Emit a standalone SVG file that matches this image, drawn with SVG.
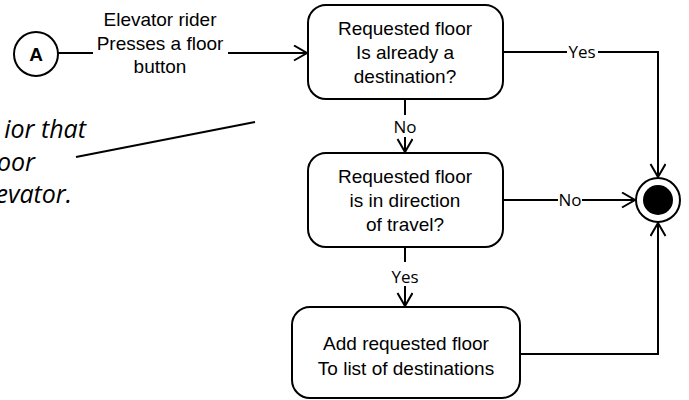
<svg xmlns="http://www.w3.org/2000/svg" width="689" height="400" viewBox="0 0 689 400">
<defs>
<style>
.box{fill:#fff;stroke:#000;stroke-width:2}
.node{font-family:"Liberation Sans",Arial,sans-serif;font-size:19px;text-anchor:middle;fill:#000}
.lbl{font-family:"Open Sans","Liberation Sans",sans-serif;font-size:17px;text-anchor:middle;fill:#000}
.note{font-family:"Open Sans","Liberation Sans",sans-serif;font-size:25px;font-style:italic;text-anchor:end;fill:#000}
.con{fill:none;stroke:#000;stroke-width:2}
.bg{fill:#fff}
</style>
<marker id="arr" markerUnits="userSpaceOnUse" markerWidth="16" markerHeight="18" refX="14" refY="8" orient="auto">
<path d="M1,0.5 L14,8 L1,15.5" fill="none" stroke="#000" stroke-width="2"/>
</marker>
</defs>
<rect width="689" height="400" fill="#fff"/>

<g id="note">
<text class="note" x="86" y="138">ior that</text>
<text class="note" x="35" y="171">oor</text>
<text class="note" x="72" y="203">evator.</text>
<line class="con" x1="76" y1="157" x2="255" y2="122" stroke-width="1.8"/>
</g>

<g id="connectors">
<path class="con" d="M58,53 H93"/>
<path class="con" d="M228,53 H307" marker-end="url(#arr)"/>
<text class="node" x="160" y="26">Elevator rider</text>
<text class="node" x="160" y="50">Presses a floor</text>
<text class="node" x="160" y="73">button</text>

<path class="con" d="M503,52 H658 V177" marker-end="url(#arr)"/>
<rect class="bg" x="567" y="42" width="31" height="20"/>
<text class="lbl" x="582" y="58">Yes</text>

<path class="con" d="M405,99 V152" marker-end="url(#arr)"/>
<rect class="bg" x="393" y="115" width="24" height="22"/>
<text class="lbl" x="405" y="133">No</text>

<path class="con" d="M503,200 H635" marker-end="url(#arr)"/>
<rect class="bg" x="558" y="190" width="24" height="20"/>
<text class="lbl" x="570" y="206">No</text>

<path class="con" d="M405,247 V306" marker-end="url(#arr)"/>
<rect class="bg" x="390" y="262" width="31" height="24"/>
<text class="lbl" x="405" y="283">Yes</text>

<path class="con" d="M520,354 H658 V223" marker-end="url(#arr)"/>
</g>

<g id="start">
<circle cx="36" cy="54" r="22" fill="#fff" stroke="#000" stroke-width="2"/>
<text x="36" y="61" font-family="Liberation Sans,Arial,sans-serif" font-size="19" font-weight="bold" text-anchor="middle">A</text>
</g>

<g id="box1">
<rect class="box" x="308" y="5" width="195" height="94" rx="18"/>
<text class="node" x="405" y="35">Requested floor</text>
<text class="node" x="405" y="59">Is already a</text>
<text class="node" x="405" y="83">destination?</text>
</g>

<g id="box2">
<rect class="box" x="308" y="153" width="195" height="94" rx="18"/>
<text class="node" x="405" y="183">Requested floor</text>
<text class="node" x="405" y="207">is in direction</text>
<text class="node" x="405" y="231">of travel?</text>
</g>

<g id="box3">
<rect class="box" x="292" y="307" width="228" height="91" rx="18"/>
<text class="node" x="406" y="350">Add requested floor</text>
<text class="node" x="406" y="375">To list of destinations</text>
</g>

<g id="end">
<circle cx="658" cy="200" r="22" fill="#fff" stroke="#000" stroke-width="2"/>
<circle cx="658" cy="200" r="15" fill="#000"/>
</g>
</svg>
